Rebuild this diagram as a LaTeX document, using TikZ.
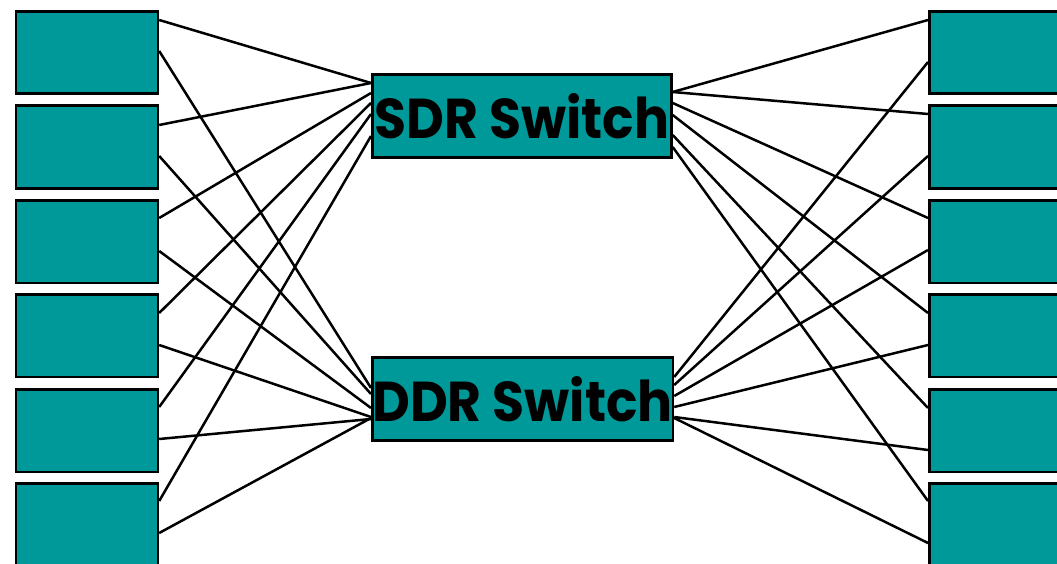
\documentclass[tikz,border=0pt]{standalone}
\usepackage{fontspec}
\newfontfamily\labelfont{Poppins}
\usetikzlibrary{backgrounds}
\definecolor{boxteal}{HTML}{009999}
\pgfdeclarelayer{paper}
\pgfsetlayers{paper,background,main}
\begin{document}
\begin{tikzpicture}[x=1pt,y=-1pt,
  box/.style={draw=black, line width=2.7pt, fill=boxteal, rectangle, inner sep=0pt,
    minimum width=142pt, minimum height=82.5pt, anchor=north west},
  rbox/.style={box, minimum width=200pt},
  sw/.style={draw=black, line width=2.7pt, fill=boxteal, rectangle, inner sep=0pt,
    minimum width=299pt, minimum height=83pt, anchor=north west,
    font=\labelfont\bfseries\fontsize{52}{52}\selectfont},
  link/.style={line width=2.5pt, draw=black}]
\useasboundingbox (0,0) rectangle (1057,564);
\clip (0,0) rectangle (1057,564);
\begin{pgfonlayer}{paper}
\fill[white] (0,0) rectangle (1057,564);
\end{pgfonlayer}
% host boxes
\foreach \i/\t in {1/10,2/104.5,3/199,4/293,5/388,6/482}{
  \node[box] (L\i) at (14.5,\t) {};
  \node[rbox] (R\i) at (928,\t) {};
}
% switches
\node[sw] (S) at (371,73) {\scalebox{1}[1.08]{SDR Switch}};
\node[sw] (D) at (371,356) {\scalebox{1}[1.08]{DDR Switch}};
\begin{pgfonlayer}{background}
% left hosts to SDR
\foreach \i/\a/\b in {1/10/10,2/20.5/10,3/19/20,4/20/30,5/19/41,6/19/63}{
  \draw[link] ([yshift=-\a pt]L\i.north east) -- ([yshift=-\b pt]S.north west);
}
% left hosts to DDR
\foreach \i/\a/\b in {1/41/32,2/51.5/38,3/52/52,4/52/61,5/51/63,6/51/62}{
  \draw[link] ([yshift=-\a pt]L\i.north east) -- ([yshift=-\b pt]D.north west);
}
% SDR to right hosts
\foreach \i/\a/\b in {1/10/19,2/9.5/19,3/19/30,4/20/42,5/20/62,6/19/74}{
  \draw[link] ([yshift=-\b pt]S.north east) -- ([yshift=-\a pt]R\i.north west);
}
% DDR to right hosts
\foreach \i/\a/\b in {1/52/21,2/51.5/29,3/51/40,4/52/51,5/62/61,6/61/62}{
  \draw[link] ([yshift=-\b pt]D.north east) -- ([yshift=-\a pt]R\i.north west);
}
\end{pgfonlayer}
\end{tikzpicture}
\end{document}
